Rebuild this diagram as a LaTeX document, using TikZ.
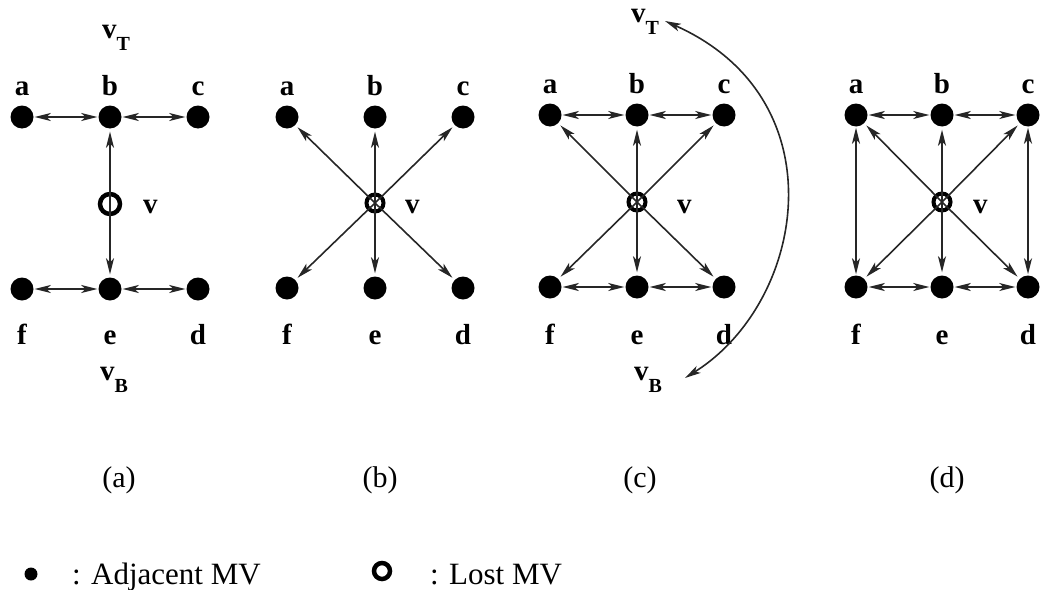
\documentclass[tikz,border=0pt]{standalone}
\usepackage{fontspec}
\setmainfont{Liberation Serif}
\usetikzlibrary{arrows.meta}
\begin{document}
\begin{tikzpicture}[x=1pt,y=-1pt,
  dot/.style={circle,fill=black,inner sep=0pt,minimum size=23pt},
  lostA/.style={circle,draw=black,line width=4.5pt,inner sep=0pt,minimum size=20pt},
  lostB/.style={circle,draw=black,line width=4pt,inner sep=0pt,minimum size=17pt},
  lbl/.style={font=\fontsize{29}{29}\selectfont\bfseries,inner sep=0pt,anchor=base},
  vlbl/.style={font=\fontsize{29}{29}\selectfont\bfseries,inner sep=0pt,anchor=base west},
  captext/.style={font=\fontsize{30}{30}\selectfont,inner sep=0pt,anchor=base},
  legtext/.style={font=\fontsize{31}{31}\selectfont,inner sep=0pt,anchor=base west},
  edgeline/.style={line width=1.6pt,draw=black!85},
  tip/.tip={Stealth[length=16pt,width=8pt,inset=4pt]},
  bi/.style={edgeline,tip-tip,shorten <=1pt,shorten >=1pt},
  outw/.style={edgeline,-tip,shorten >=3pt},
]
\useasboundingbox (0,0) rectangle (1041,589);
\newcommand{\subT}[1]{{\fontsize{20}{20}\selectfont\raisebox{-12pt}{#1}}}

% ---------------- panel (a)
\node[dot] (a1) at (22,117) {};
\node[dot] (b1) at (110,117) {};
\node[dot] (c1) at (198,117) {};
\node[dot] (f1) at (22,289) {};
\node[dot] (e1) at (110,289) {};
\node[dot] (d1) at (198,289) {};
\node[lostA] (v1) at (110,204) {};
\node[lbl] (la1) at (22,95) {a};
\node[lbl] (lb1) at (110,95) {b};
\node[lbl] (lc1) at (198,95) {c};
\node[lbl] (lf1) at (22,344) {f};
\node[lbl] (le1) at (110,344) {e};
\node[lbl] (ld1) at (198,344) {d};
\node[vlbl] (lv1) at (143,213) {v};
\node[vlbl] (vT1) at (102,38) {v\subT{T}};
\node[vlbl] (vB1) at (100,380) {v\subT{B}};
\draw[bi] (a1) -- (b1);
\draw[bi] (b1) -- (c1);
\draw[bi] (f1) -- (e1);
\draw[bi] (e1) -- (d1);
\draw[outw] (v1.center) -- (b1);
\draw[outw] (v1.center) -- (e1);

% ---------------- panel (b)
\node[dot] (a2) at (287,117) {};
\node[dot] (b2) at (375,117) {};
\node[dot] (c2) at (463,117) {};
\node[dot] (f2) at (287,288) {};
\node[dot] (e2) at (375,288) {};
\node[dot] (d2) at (463,288) {};
\node[lostB] (v2) at (375,203) {};
\node[lbl] (la2) at (287,95) {a};
\node[lbl] (lb2) at (375,95) {b};
\node[lbl] (lc2) at (463,95) {c};
\node[lbl] (lf2) at (287,344) {f};
\node[lbl] (le2) at (375,344) {e};
\node[lbl] (ld2) at (463,344) {d};
\node[vlbl] (lv2) at (405,213) {v};
\foreach \t in {a2,b2,c2,d2,e2,f2} \draw[outw] (v2.center) -- (\t);

% ---------------- panel (c)
\node[dot] (a3) at (550,115) {};
\node[dot] (b3) at (637,115) {};
\node[dot] (c3) at (724,115) {};
\node[dot] (f3) at (550,287) {};
\node[dot] (e3) at (637,287) {};
\node[dot] (d3) at (724,287) {};
\node[lostB] (v3) at (637,202) {};
\node[lbl] (la3) at (550,93) {a};
\node[lbl] (lb3) at (637,93) {b};
\node[lbl] (lc3) at (724,93) {c};
\node[lbl] (lf3) at (550,344) {f};
\node[lbl] (le3) at (637,344) {e};
\node[lbl] (ld3) at (724,344) {d};
\node[vlbl] (lv3) at (677,213) {v};
\node[vlbl] (vT3) at (631,22) {v\subT{T}};
\node[vlbl] (vB3) at (634,380) {v\subT{B}};
\draw[bi] (a3) -- (b3);
\draw[bi] (b3) -- (c3);
\draw[bi] (f3) -- (e3);
\draw[bi] (e3) -- (d3);
\foreach \t in {a3,b3,c3,d3,e3,f3} \draw[outw] (v3.center) -- (\t);
\coordinate (ct) at (665,21);
\coordinate (cb) at (685,378);
\draw[edgeline,tip-tip] (ct) .. controls (840,99) and (806,302) .. (cb);

% ---------------- panel (d)
\node[dot] (a4) at (856,115) {};
\node[dot] (b4) at (942,115) {};
\node[dot] (c4) at (1028,115) {};
\node[dot] (f4) at (856,287) {};
\node[dot] (e4) at (942,287) {};
\node[dot] (d4) at (1028,287) {};
\node[lostB] (v4) at (942,202) {};
\node[lbl] (la4) at (856,93) {a};
\node[lbl] (lb4) at (942,93) {b};
\node[lbl] (lc4) at (1028,93) {c};
\node[lbl] (lf4) at (856,344) {f};
\node[lbl] (le4) at (942,344) {e};
\node[lbl] (ld4) at (1028,344) {d};
\node[vlbl] (lv4) at (973,213) {v};
\draw[bi] (a4) -- (b4);
\draw[bi] (b4) -- (c4);
\draw[bi] (f4) -- (e4);
\draw[bi] (e4) -- (d4);
\draw[bi] (a4) -- (f4);
\draw[bi] (c4) -- (d4);
\foreach \t in {a4,b4,c4,d4,e4,f4} \draw[outw] (v4.center) -- (\t);

% ---------------- captions
\node[captext] (capa) at (119,487) {(a)};
\node[captext] (capb) at (380,487) {(b)};
\node[captext] (capc) at (640,487) {(c)};
\node[captext] (capd) at (947,487) {(d)};

% ---------------- legend
\node[circle,fill=black,inner sep=0pt,minimum size=13pt] (ldot) at (31,574) {};
\node[legtext] (ltxt1) at (72,584) {: Adjacent MV};
\node[circle,draw=black,line width=4.5pt,inner sep=0pt,minimum size=16pt] (lring) at (382,571) {};
\node[legtext] (ltxt2) at (430,584) {: Lost MV};
\end{tikzpicture}
\end{document}
